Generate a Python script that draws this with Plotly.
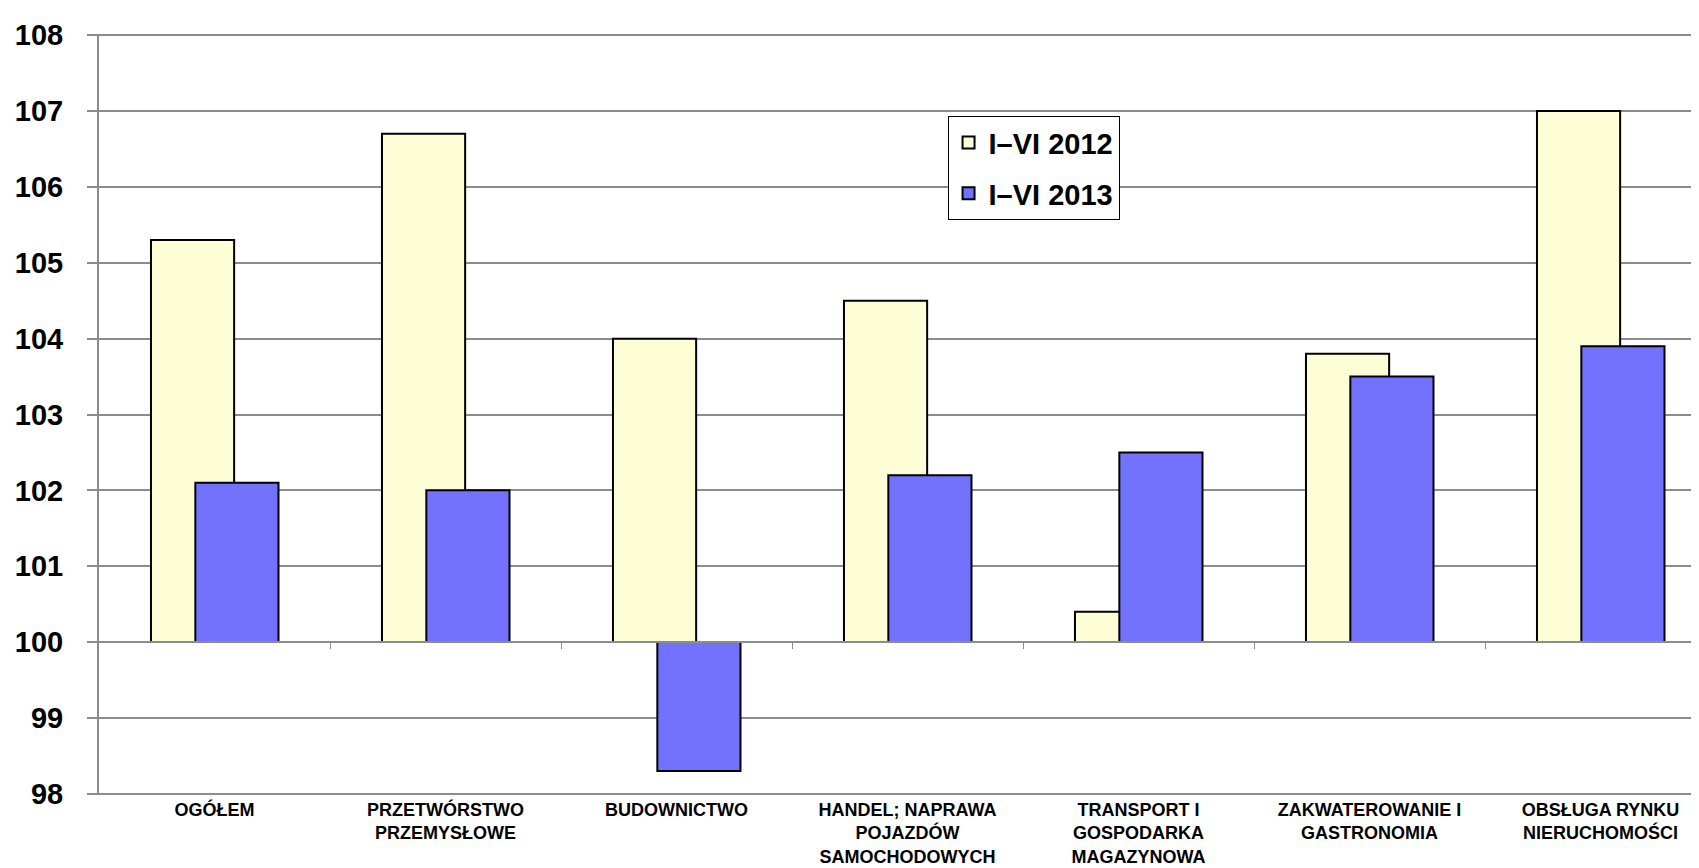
import plotly.graph_objects as go

categories = [
    "OGÓŁEM",
    "PRZETWÓRSTWO<br>PRZEMYSŁOWE",
    "BUDOWNICTWO",
    "HANDEL; NAPRAWA<br>POJAZDÓW<br>SAMOCHODOWYCH",
    "TRANSPORT I<br>GOSPODARKA<br>MAGAZYNOWA",
    "ZAKWATEROWANIE I<br>GASTRONOMIA",
    "OBSŁUGA RYNKU<br>NIERUCHOMOŚCI",
]
series_2012_name = "I–VI 2012"
series_2013_name = "I–VI 2013"
values_2012 = [105.3, 106.7, 104.0, 104.5, 100.4, 103.8, 107.0]
values_2013 = [102.1, 102.0, 98.3, 102.2, 102.5, 103.5, 103.9]
base_value = 100
y_ticks = [98, 99, 100, 101, 102, 103, 104, 105, 106, 107, 108]

FONT = "Liberation Sans, Arial, sans-serif"
n = len(categories)
xpos = list(range(n))
boundaries = [i + 0.5 for i in range(n - 1)]
xrange = [-0.5, 6.461]
yrange = [97.985, 108.015]
base_frac = (base_value - yrange[0]) / (yrange[1] - yrange[0])

fig = go.Figure()
fig.add_trace(go.Bar(
    x=xpos, y=[v - base_value for v in values_2012], base=base_value,
    name=series_2012_name, width=0.36, offset=-0.275,
    marker=dict(color="#FEFED6", line=dict(color="#000000", width=2)),
    legendgroup="a", xaxis="x", yaxis="y",
))
fig.add_trace(go.Bar(
    x=xpos, y=[v - base_value for v in values_2013], base=base_value,
    name=series_2013_name, width=0.36, offset=-0.083,
    marker=dict(color="#7272FE", line=dict(color="#000000", width=2)),
    legendgroup="b", xaxis="x2", yaxis="y",
))

fig.update_layout(
    width=1699, height=868,
    margin=dict(l=91, r=0, t=26, b=81),
    paper_bgcolor="white", plot_bgcolor="white",
    barmode="overlay",
    font=dict(family=FONT, color="black"),
    showlegend=True,
    legend=dict(
        x=0.5277, y=0.892, xanchor="left", yanchor="top",
        bgcolor="white", bordercolor="black", borderwidth=1,
        font=dict(family=FONT, size=29, color="black", weight="bold"),
        traceorder="grouped", tracegroupgap=10,
    ),
    xaxis=dict(
        range=xrange, anchor="y", side="bottom",
        tickvals=xpos, ticktext=categories, ticks="",
        showline=False, showgrid=False, zeroline=False,
        tickfont=dict(family=FONT, size=18, color="black", weight="bold"),
        ticklabelstandoff=2,
    ),
    xaxis2=dict(
        range=xrange, overlaying="x", anchor="free", position=base_frac,
        showline=True, linecolor="#8c8c8c", linewidth=2,
        ticks="outside", ticklen=6, tickwidth=1, tickcolor="#8c8c8c",
        tickvals=boundaries, showticklabels=False, showgrid=False,
        zeroline=False,
    ),
    yaxis=dict(
        range=yrange, tickvals=y_ticks,
        showgrid=True, gridcolor="#8c8c8c", gridwidth=1.5,
        showline=True, linecolor="#8c8c8c", linewidth=2,
        ticks="outside", ticklen=10, tickcolor="#8c8c8c", tickwidth=1.5,
        tickfont=dict(family=FONT, size=29, color="black", weight="bold"),
        ticklabelstandoff=18,
        zeroline=False,
    ),
)

fig.write_html("out.html")
